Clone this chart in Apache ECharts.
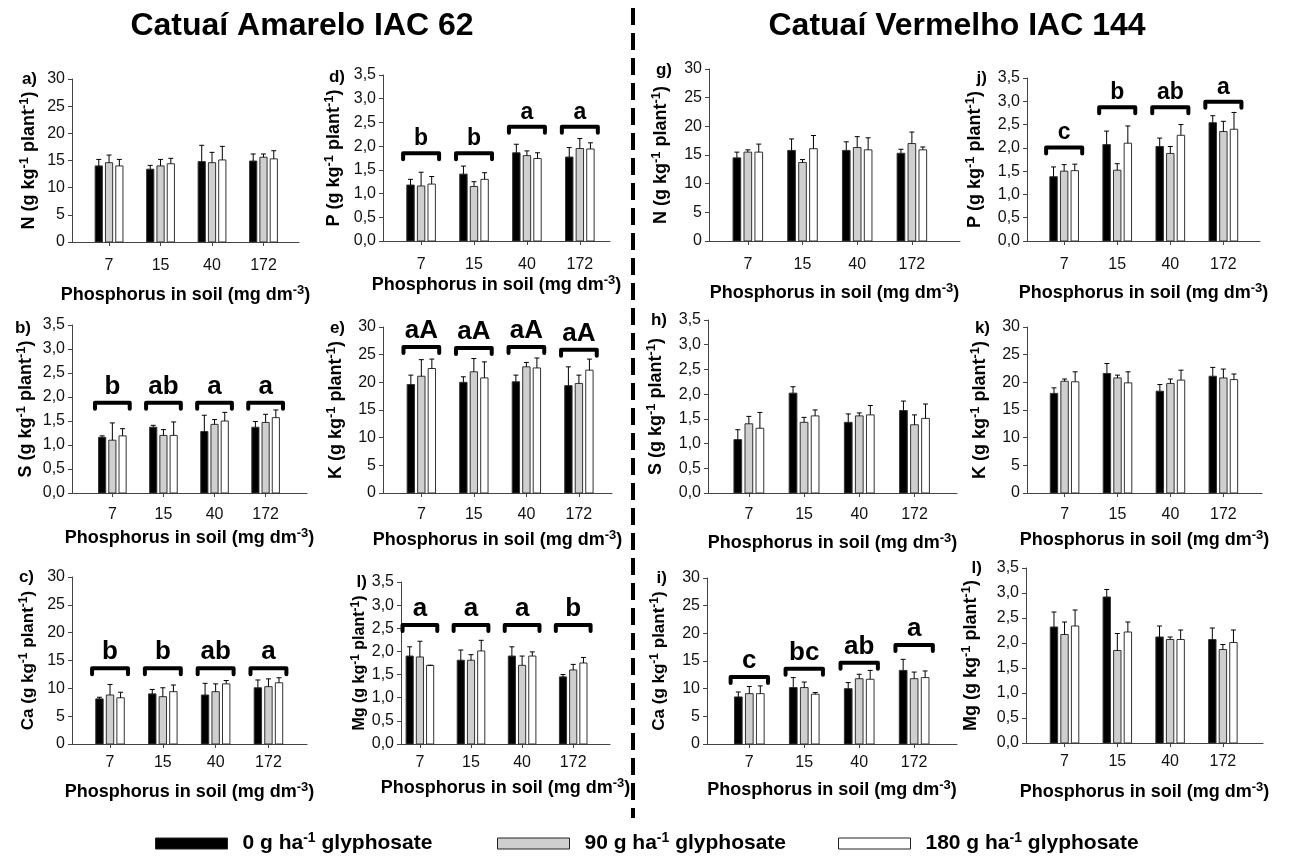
<!DOCTYPE html>
<html><head><meta charset="utf-8">
<script src="https://cdn.jsdelivr.net/npm/echarts@6/dist/echarts.min.js"></script>
<style>html,body{margin:0;padding:0;background:#fff}#c{width:1299px;height:860px}</style>
</head><body><div id="c"></div><script>
const categories = ['7','15','40','172'];
const doses = ['0','90','180'];

// a) N — Catuaí Amarelo IAC 62  (rows = doses 0, 90, 180)
const N_am_mean  = [[14.0,13.4,14.8,14.9],[14.6,14.0,14.6,15.6],[14.0,14.4,15.1,15.3]];
const N_am_upper = [[15.2,14.1,17.8,16.2],[16.0,15.2,16.5,16.2],[15.2,15.4,17.6,16.8]];
// d) P — Amarelo
const P_am_mean  = [[1.18,1.41,1.86,1.77],[1.16,1.15,1.80,1.95],[1.20,1.30,1.74,1.94]];
const P_am_upper = [[1.30,1.58,2.04,1.97],[1.45,1.25,1.90,2.16],[1.36,1.44,1.86,2.07]];
const P_am_letters = ['b','b','a','a'];
const P_am_bracket = [1.85,1.85,2.41,2.41];
// b) S — Amarelo
const S_am_mean  = [[1.16,1.37,1.28,1.37],[1.10,1.20,1.43,1.47],[1.19,1.20,1.50,1.57]];
const S_am_upper = [[1.19,1.41,1.62,1.49],[1.46,1.32,1.53,1.64],[1.34,1.48,1.68,1.73]];
const S_am_letters = ['b','ab','a','a'];
const S_am_bracket = [1.88,1.88,1.88,1.88];
// e) K — Amarelo
const K_am_mean  = [[19.6,20.0,20.1,19.4],[21.1,21.9,22.8,19.8],[22.5,20.8,22.6,22.2]];
const K_am_upper = [[21.3,21.0,21.3,22.8],[24.1,24.3,23.6,21.3],[24.2,23.7,24.4,24.2]];
const K_am_letters = ['aA','aA','aA','aA'];
const K_am_bracket = [26.4,26.2,26.4,25.9];
// c) Ca — Amarelo
const Ca_am_mean  = [[8.1,9.0,8.8,10.1],[8.8,8.5,9.4,10.3],[8.3,9.4,10.8,11.0]];
const Ca_am_upper = [[8.4,9.8,10.9,11.5],[10.7,10.1,10.8,11.7],[9.3,10.6,11.4,11.9]];
const Ca_am_letters = ['b','b','ab','a'];
const Ca_am_bracket = [13.6,13.6,13.6,13.6];
// l) Mg — Amarelo
const Mg_am_mean  = [[1.90,1.81,1.90,1.45],[1.88,1.81,1.70,1.60],[1.70,2.01,1.90,1.75]];
const Mg_am_upper = [[2.10,2.03,2.10,1.50],[2.22,1.93,1.90,1.72],[1.70,2.24,1.99,1.87]];
const Mg_am_letters = ['a','a','a','b'];
const Mg_am_bracket = [2.57,2.57,2.57,2.57];
// g) N — Catuaí Vermelho IAC 144
const N_ve_mean  = [[14.5,15.8,15.8,15.3],[15.5,13.7,16.3,17.0],[15.5,16.1,15.9,15.9]];
const N_ve_upper = [[15.5,17.8,17.3,16.0],[15.9,14.2,18.2,19.0],[16.9,18.4,18.0,16.4]];
// j) P — Vermelho
const P_ve_mean  = [[1.38,2.07,2.03,2.54],[1.50,1.52,1.88,2.35],[1.51,2.10,2.27,2.40]];
const P_ve_upper = [[1.59,2.36,2.21,2.69],[1.64,1.66,2.03,2.57],[1.65,2.47,2.50,2.76]];
const P_ve_letters = ['c','b','ab','a'];
const P_ve_bracket = [2.01,2.87,2.87,2.99];
// h) S — Vermelho
const S_ve_mean  = [[1.08,2.02,1.43,1.67],[1.40,1.43,1.56,1.38],[1.31,1.56,1.58,1.51]];
const S_ve_upper = [[1.28,2.15,1.60,1.86],[1.55,1.53,1.62,1.58],[1.63,1.68,1.77,1.80]];
// k) K — Vermelho
const K_ve_mean  = [[18.0,21.6,18.4,21.1],[20.2,20.8,19.8,20.8],[20.1,19.9,20.4,20.5]];
const K_ve_upper = [[19.0,23.4,19.6,22.7],[20.6,21.3,20.6,22.4],[21.9,21.9,22.2,21.5]];
// i) Ca — Vermelho
const Ca_ve_mean  = [[8.5,10.2,10.0,13.3],[9.1,10.2,11.8,11.8],[9.1,9.0,11.7,12.0]];
const Ca_ve_upper = [[9.4,12.0,11.1,15.3],[10.4,11.2,12.6,13.0],[10.5,9.3,13.3,13.2]];
const Ca_ve_letters = ['c','bc','ab','a'];
const Ca_ve_bracket = [12.1,13.6,14.7,17.9];
// l) Mg — Vermelho
const Mg_ve_mean  = [[2.32,2.92,2.12,2.07],[2.17,1.85,2.07,1.87],[2.34,2.22,2.07,2.01]];
const Mg_ve_upper = [[2.62,3.07,2.34,2.30],[2.42,2.19,2.12,1.97],[2.66,2.42,2.26,2.26]];

const yTitles = {N:'N', P:'P', S:'S', K:'K', Ca:'Ca', Mg:'Mg'};

// layout (pixel boxes) kept separate from data
const panels = [
 {lab:'a)', el:'N',  mean:N_am_mean,  up:N_am_upper,  box:[72,79,299,242],  xr:[-0.72,3.69], yg:32, xg:42, lm:16, lp:[37,79]},
 {lab:'d)', el:'P',  mean:P_am_mean,  up:P_am_upper,  letters:P_am_letters, br:P_am_bracket, fs:23, box:[383,75,610,241], xr:[-0.72,3.57], yg:38, xg:33, lm:16, lp:[345,77]},
 {lab:'g)', el:'N',  mean:N_ve_mean,  up:N_ve_upper,  box:[709,69,960,241], xr:[-0.71,3.88], yg:37, xg:41, lm:16, lp:[672,70]},
 {lab:'j)', el:'P',  mean:P_ve_mean,  up:P_ve_upper,  letters:P_ve_letters, br:P_ve_bracket, fs:23, box:[1027,78,1260,241], xr:[-0.70,3.69], yg:41, xg:41, lm:16, lp:[987,78]},
 {lab:'b)', el:'S',  mean:S_am_mean,  up:S_am_upper,  letters:S_am_letters, br:S_am_bracket, fs:26, box:[72,325,307,493], xr:[-0.79,3.81], yg:35, xg:34, lm:14, lp:[31,328]},
 {lab:'e)', el:'K',  mean:K_am_mean,  up:K_am_upper,  letters:K_am_letters, br:K_am_bracket, fs:26, box:[383,327,612,493], xr:[-0.73,3.63], yg:36, xg:36, lm:14, lp:[345,328]},
 {lab:'h)', el:'S',  mean:S_ve_mean,  up:S_ve_upper,  box:[708,320,957,493], xr:[-0.74,3.77], yg:41, xg:39, lm:14, lp:[667,320]},
 {lab:'k)', el:'K',  mean:K_ve_mean,  up:K_ve_upper,  box:[1027,327,1262,493], xr:[-0.71,3.73], yg:36, xg:36, lm:14, lp:[990,328]},
 {lab:'c)', el:'Ca', mean:Ca_am_mean, up:Ca_am_upper, letters:Ca_am_letters, br:Ca_am_bracket, fs:26, box:[72,577,307,744], xr:[-0.72,3.73], yg:33, xg:37, lm:11, lp:[34,577], nf:17},
 {lab:'l)', el:'Mg', mean:Mg_am_mean, up:Mg_am_upper, letters:Mg_am_letters, br:Mg_am_bracket, fs:26, box:[401,582,610,744], xr:[-0.37,3.72], yg:23, xg:33, lm:11, lp:[367,582], nf:16},
 {lab:'i)', el:'Ca', mean:Ca_ve_mean, up:Ca_ve_upper, letters:Ca_ve_letters, br:Ca_ve_bracket, fs:26, box:[707,578,957,744], xr:[-0.77,3.78], yg:37, xg:35, lm:11, lp:[667,578], nf:17},
 {lab:'l)', el:'Mg', mean:Mg_ve_mean, up:Mg_ve_upper, box:[1026,568,1263,743], xr:[-0.73,3.76], yg:44, xg:38, lm:11, lp:[982,568]}
];

const FONT = '"Liberation Sans", Arial, sans-serif';
const FILLS = ['#000000','#cfcfcf','#ffffff'];
const supRich = (size, sup) => ({
  b:{fontFamily:FONT, fontWeight:'bold', fontSize:size, color:'#000', lineHeight:size+4},
  s:{fontFamily:FONT, fontWeight:'bold', fontSize:sup, color:'#000', lineHeight:sup+1, verticalAlign:'top'}
});
const isBig = el => (el==='N'||el==='K'||el==='Ca');

const grids=[], xAxes=[], yAxes=[], series=[], graphics=[];

function barRender(level){
  return function(params, api){
    const c = api.value(0), v = api.value(1), up = api.value(2);
    const step = api.size([1,0])[0];
    const base = api.coord([c,0]);
    const cx = base[0] + (level-1)*0.2*step;
    const w = 0.14*step;
    const y0 = base[1], y1 = api.coord([c,v])[1], yu = api.coord([c,up])[1];
    return {type:'group', children:[
      {type:'rect', shape:{x:cx-w/2, y:y1, width:w, height:y0-y1}, style:{fill:FILLS[level], stroke:'#333', lineWidth:1}},
      {type:'line', shape:{x1:cx, y1:y1, x2:cx, y2:yu}, style:{stroke:'#000', lineWidth:1}},
      {type:'line', shape:{x1:cx-2.5, y1:yu, x2:cx+2.5, y2:yu}, style:{stroke:'#000', lineWidth:1}}
    ]};
  };
}
function letterRender(fs){
  return function(params, api){
    const c = api.value(0), yv = api.value(1);
    const step = api.size([1,0])[0];
    const p = api.coord([c,yv]);
    const hw = 0.34*step;
    return {type:'group', children:[
      {type:'polyline', shape:{points:[[p[0]-hw,p[1]+6],[p[0]-hw,p[1]],[p[0]+hw,p[1]],[p[0]+hw,p[1]+6]]},
       style:{stroke:'#000', lineWidth:4, fill:null, lineJoin:'round', lineCap:'round'}},
      {type:'text', x:p[0], y:p[1]-3, style:{text:api.value(2), font:'bold '+fs+'px '+FONT, align:'center', verticalAlign:'bottom', fill:'#000'}}
    ]};
  };
}

panels.forEach((p,i)=>{
  const [l,t,r,b] = p.box;
  grids.push({left:l, top:t, width:r-l, height:b-t});
  const big = isBig(p.el);
  const nf = p.nf || 18;
  xAxes.push({gridIndex:i, type:'value', min:p.xr[0], max:p.xr[1], splitLine:{show:false},
    axisLine:{show:true, onZero:false, lineStyle:{color:'#444', width:1}},
    axisTick:{show:true, customValues:[0,1,2,3], length:4, lineStyle:{color:'#444'}},
    axisLabel:{customValues:[0,1,2,3], formatter:v=>categories[Math.round(v)], margin:p.lm, fontSize:16, color:'#111', fontFamily:FONT},
    name:'{b|Phosphorus in soil (mg dm}{s|-3}{b|)}', nameLocation:'middle', nameGap:p.xg,
    nameTextStyle:{rich:supRich(18,13)}});
  yAxes.push({gridIndex:i, type:'value', min:0, max:big?30:3.5, interval:big?5:0.5, splitLine:{show:false},
    axisLine:{show:true, onZero:false, lineStyle:{color:'#444', width:1}},
    axisTick:{show:true, length:4, lineStyle:{color:'#444'}},
    axisLabel:{fontSize:16, color:'#111', fontFamily:FONT, margin:7,
      formatter:v=> big ? String(v) : v.toFixed(1).replace('.',',')},
    name:'{b|'+yTitles[p.el]+' (g kg}{s|-1}{b| plant}{s|-1}{b|)}', nameLocation:'middle', nameGap:p.yg, nameRotate:90,
    nameTextStyle:{rich:supRich(nf, Math.round(nf*0.72))}});
  doses.forEach((d,k)=>{
    series.push({type:'custom', name:d, xAxisIndex:i, yAxisIndex:i, clip:false, silent:true,
      itemStyle:{color:FILLS[k], borderColor:'#333'},
      renderItem:barRender(k),
      data:categories.map((_,c)=>[c, p.mean[k][c], p.up[k][c]])});
  });
  if(p.letters){
    series.push({type:'custom', name:'letters'+i, xAxisIndex:i, yAxisIndex:i, clip:false, silent:true,
      renderItem:letterRender(p.fs),
      dimensions:['x','y',{name:'t', type:'ordinal'}],
      data:categories.map((_,c)=>[c, p.br[c], p.letters[c]])});
  }
  graphics.push({type:'text', x:p.lp[0], y:p.lp[1], style:{text:p.lab, font:'bold 17px '+FONT, align:'right', verticalAlign:'middle', fill:'#000'}});
});

graphics.push({type:'text', x:302, y:26, style:{text:'Catuaí Amarelo IAC 62', font:'bold 32px '+FONT, align:'center', verticalAlign:'middle', fill:'#000'}});
graphics.push({type:'text', x:957, y:26, style:{text:'Catuaí Vermelho IAC 144', font:'bold 32px '+FONT, align:'center', verticalAlign:'middle', fill:'#000'}});
graphics.push({type:'line', shape:{x1:633, y1:8, x2:633, y2:818}, style:{stroke:'#000', lineWidth:4, lineDash:[17,8]}});

const legends = doses.map((d,k)=>({
  left:[155,497,838][k], top:831, padding:0, itemWidth:72, itemHeight:11, selectedMode:false,
  data:[{name:d, icon:'rect', itemStyle:{color:FILLS[k], borderColor:'#222', borderWidth:1}}],
  formatter:n=>'{b|'+n+' g ha}{s|-1}{b| glyphosate}',
  textStyle:{padding:[0,0,0,10], rich:supRich(21,14)}
}));

const chart = echarts.init(document.getElementById('c'), null, {renderer:'canvas'});
chart.setOption({animation:false, backgroundColor:'#fff', grid:grids, xAxis:xAxes, yAxis:yAxes, series, legend:legends, graphic:graphics});
</script></body></html>
